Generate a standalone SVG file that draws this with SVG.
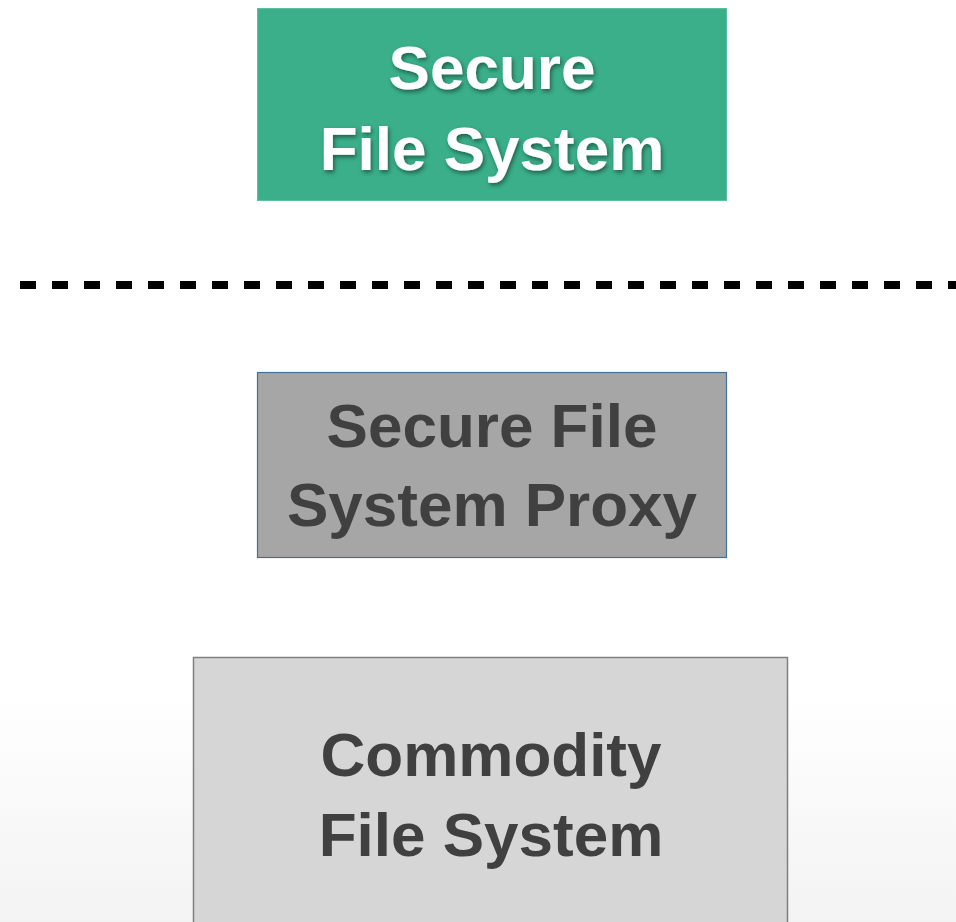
<svg xmlns="http://www.w3.org/2000/svg" width="956" height="922" viewBox="0 0 956 922">
  <defs>
    <linearGradient id="bg" x1="0" y1="0" x2="0" y2="1">
      <stop offset="0" stop-color="#ffffff"/>
      <stop offset="0.75" stop-color="#ffffff"/>
      <stop offset="1" stop-color="#f3f3f3"/>
    </linearGradient>
    <filter id="textShadow" x="-10%" y="-30%" width="120%" height="160%">
      <feDropShadow dx="1.5" dy="2.5" stdDeviation="2" flood-color="#000" flood-opacity="0.45"/>
    </filter>
    <style>
      .label { font-family: "Liberation Sans", Arial, sans-serif; font-weight: bold; font-size: 62px; text-anchor: middle; }
      .light { fill: #ffffff; filter: url(#textShadow); }
      .dark { fill: #404040; }
    </style>
  </defs>

  <rect width="956" height="922" fill="url(#bg)"/>

  <!-- trust boundary -->
  <g id="connectors">
    <line x1="20" y1="285" x2="956" y2="285" stroke="#000" stroke-width="8" stroke-dasharray="16 16"/>
  </g>

  <g id="secure-fs">
    <rect x="257.5" y="8.5" width="469" height="192" fill="#3aaf89" stroke="#5cc09a" stroke-width="1"/>
    <text class="label light" x="492" y="89">Secure</text>
    <text class="label light" x="492" y="170">File System</text>
  </g>

  <g id="secure-fs-proxy">
    <rect x="257.5" y="372.5" width="469" height="185" fill="#a6a6a6" stroke="#41719c" stroke-width="1.2"/>
    <text class="label dark" x="492" y="447">Secure File</text>
    <text class="label dark" x="492" y="526">System Proxy</text>
  </g>

  <g id="commodity-fs">
    <rect x="193.5" y="657.5" width="594" height="280" fill="#d6d6d6" stroke="#7f7f7f" stroke-width="1.5"/>
    <text class="label dark" x="491" y="776">Commodity</text>
    <text class="label dark" x="491" y="856">File System</text>
  </g>
</svg>
